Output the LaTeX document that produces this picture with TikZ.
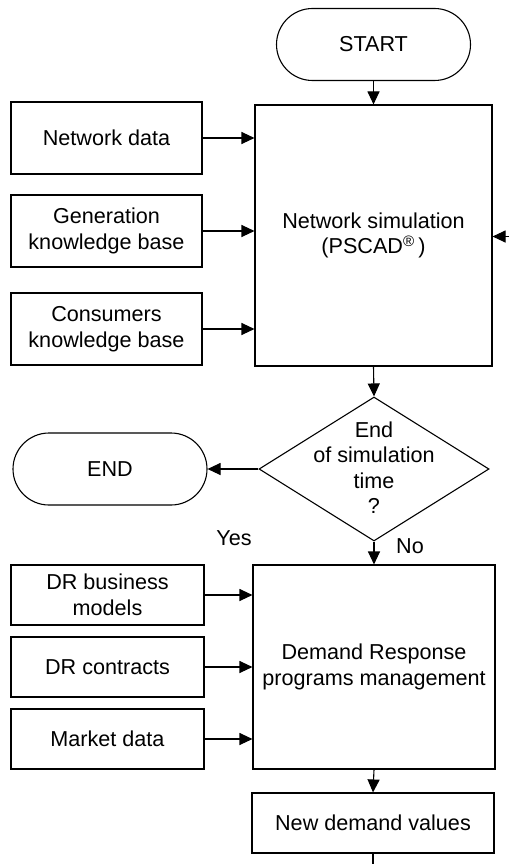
\documentclass[tikz,border=0pt]{standalone}
\usepackage{fontspec}
\setmainfont{Liberation Sans}
\usetikzlibrary{shapes.geometric,arrows.meta}
\begin{document}
\begin{tikzpicture}[x=1pt,y=-1pt,
  every node/.style={font=\fontsize{21.6}{25.5}\selectfont, align=center, inner sep=0pt},
  box/.style={draw, line width=1.1pt, rectangle, minimum width=#1},
  term/.style={draw, line width=1.1pt, rectangle, rounded corners=36pt, minimum width=194pt, minimum height=72pt},
  arr/.style={line width=1.1pt, -{Triangle[length=13pt,width=12pt]}},
  ln/.style={line width=1.1pt}]
\useasboundingbox (0,0) rectangle (509,864);
\node[term] (start) at (373.5,44.5) {START};
\node[box=237pt, minimum height=261pt] (sim) at (373.5,235.5) {Network simulation\\(PSCAD\textsuperscript{\textregistered}\,)};
\node[box=191pt, minimum height=72pt] (nd) at (106.5,138) {Network data};
\node[box=191pt, minimum height=72pt] (gen) at (106.5,231) {Generation\\knowledge base};
\node[box=191pt, minimum height=72pt] (cons) at (106.5,329) {Consumers\\knowledge base};
\node[draw, line width=1.1pt, diamond, minimum width=230pt, minimum height=144pt] (dia) at (374,469) {};
\node (diat) at (374,467.5) {End\\of simulation\\time\\?};
\node[term] (end) at (110,469) {END};
\node (yes) at (234,538) {Yes};
\node (no) at (410,546) {No};
\node[box=242pt, minimum height=204pt] (drm) at (374,667) {Demand Response\\programs management};
\node[box=193pt, minimum height=60pt] (bm) at (107.5,595) {DR business\\models};
\node[box=193pt, minimum height=60pt] (con) at (107.5,667) {DR contracts};
\node[box=193pt, minimum height=60pt] (mkt) at (107.5,739) {Market data};
\node[box=242pt, minimum height=60pt] (ndv) at (373,823) {New demand values};
\coordinate (fb) at (509,236.5);
\coordinate (bot) at (373,864);
\draw[arr] (start.south) -- (sim.north);
\draw[arr] (nd.east) -- (nd.east -| sim.west);
\draw[arr] (gen.east) -- (gen.east -| sim.west);
\draw[arr] (cons.east) -- (cons.east -| sim.west);
\draw[arr] (fb) -- (fb -| sim.east);
\draw[arr] (sim.south) -- (dia.north);
\draw[arr] (dia.west) -- (end.east);
\draw[arr] (dia.south) -- (drm.north);
\draw[arr] (bm.east) -- (bm.east -| drm.west);
\draw[arr] (con.east) -- (con.east -| drm.west);
\draw[arr] (mkt.east) -- (mkt.east -| drm.west);
\draw[arr] (drm.south) -- (ndv.north);
\draw[ln] (ndv.south) -- (bot);
\end{tikzpicture}
\end{document}
